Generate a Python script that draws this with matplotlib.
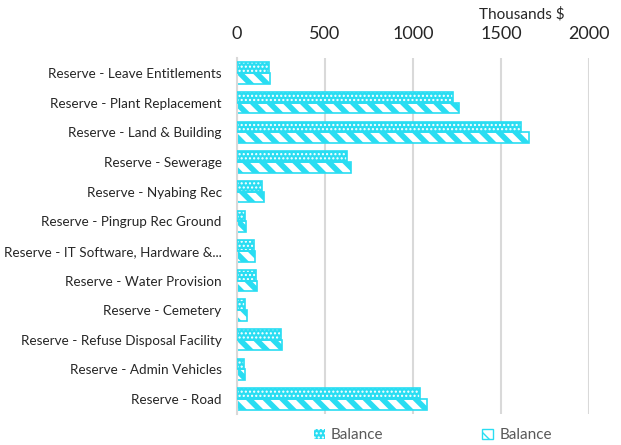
import numpy as np
import matplotlib.pyplot as plt
from matplotlib.patches import Patch

plt.rcParams['font.family'] = ['Lato', 'DejaVu Sans']
plt.rcParams['hatch.linewidth'] = 1.0

categories = [
    "Reserve - Leave Entitlements",
    "Reserve - Plant Replacement",
    "Reserve - Land & Building",
    "Reserve - Sewerage",
    "Reserve - Nyabing Rec",
    "Reserve - Pingrup Rec Ground",
    "Reserve - IT Software, Hardware &...",
    "Reserve - Water Provision",
    "Reserve - Cemetery",
    "Reserve - Refuse Disposal Facility",
    "Reserve - Admin Vehicles",
    "Reserve - Road",
]
balance_a = [180, 1225, 1612, 623, 142, 45, 97, 108, 47, 250, 40, 1040]
balance_b = [187, 1263, 1659, 648, 153, 50, 102, 115, 55, 257, 45, 1078]
xticks = [0, 500, 1000, 1500, 2000]

cyan = '#29DDF2'

fig = plt.figure(figsize=(6.21, 4.45), dpi=100)
ax = fig.add_axes([0.3816, 0.070, 0.567, 0.799])

y = np.arange(len(categories))
h = 0.36

# dotted bars: cyan fill with small white dots, then cyan border
ax.barh(y - h / 2, balance_a, height=h, color=cyan, edgecolor='white',
        hatch='....', linewidth=0, zorder=2)
ax.barh(y - h / 2, balance_a, height=h, fill=False, edgecolor=cyan,
        linewidth=1.2, zorder=3)
h1 = Patch(facecolor=cyan, edgecolor='white', hatch='....', linewidth=0)

# striped bars: white fill with thick cyan diagonal stripes
bars_b = ax.barh(y + h / 2, balance_b, height=h, color='white', edgecolor=cyan,
                 hatch='\\\\', linewidth=1.2, zorder=2)
h2 = Patch(facecolor='white', edgecolor=cyan, hatch='\\\\', linewidth=1)
for p in list(bars_b) + [h2]:
    if hasattr(p, 'set_hatch_linewidth'):
        p.set_hatch_linewidth(4.0)

ax.set_ylim(len(categories) - 0.5, -0.5)
ax.set_xlim(0, 2000)
ax.set_yticks(y)
ax.set_yticklabels(categories, fontsize=9.7, color='#262626')
ax.set_xticks(xticks)
ax.set_xticklabels([str(t) for t in xticks], fontsize=13, color='#262626')
ax.xaxis.tick_top()
ax.tick_params(axis='x', length=0, pad=12)
ax.tick_params(axis='y', length=0, pad=11)

for s in ['top', 'right', 'bottom']:
    ax.spines[s].set_visible(False)
ax.spines['left'].set_color('#D9D9D9')
ax.spines['left'].set_linewidth(1.5)
ax.grid(axis='x', color='#D9D9D9', linewidth=1.5, zorder=0)
ax.set_axisbelow(True)

fig.text(0.841, 0.968, "Thousands $", fontsize=11, color='#262626',
         ha='center', va='center')

leg = fig.legend([h1, h2], ["Balance", "Balance"], loc='center',
                 bbox_to_anchor=(0.697, 0.022), ncol=2, frameon=False,
                 fontsize=11, handlelength=0.7, handleheight=0.7,
                 handletextpad=0.4, columnspacing=6.5)
for t in leg.get_texts():
    t.set_color('#595959')

fig.savefig('out.png', dpi=100)
